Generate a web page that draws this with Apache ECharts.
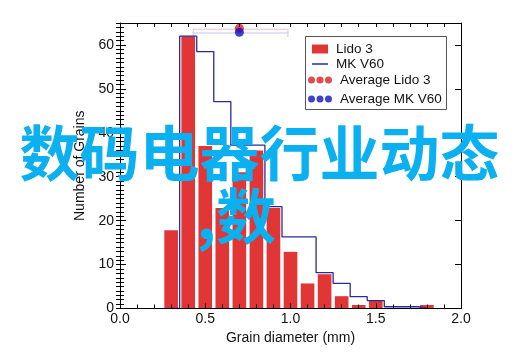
<!DOCTYPE html>
<html><head><meta charset="utf-8">
<script src="https://cdn.jsdelivr.net/npm/echarts@6/dist/echarts.min.js"></script>
<style>html,body{margin:0;padding:0;background:#fff}#c{width:515px;height:359px}</style>
</head><body><div id="c"></div>
<script>
// ---- data ----
const binCenters = [0.3,0.4,0.5,0.6,0.7,0.8,0.9,1.0,1.1,1.2,1.3,1.4,1.5,1.6,1.7,1.8];
const lido3 = [17.8,62,37,22.9,31,36,22.9,12.9,5.7,7.8,2.8,0.8,1.8,0,0,0.8];
const mkV60 = [0,62,58.5,47.1,37.2,37.2,23.2,16.3,16.3,8.15,5.7,2.7,1.8,0.4,0.4,0];
const avgLido3 = [0.70, 63.8];
const avgMkV60 = [0.70, 62.9];
const errLido3 = [0.43, 0.985, 63.6];
const errMkV60 = [0.43, 0.985, 62.7];
const xTickLabels = ['0.0','0.5','1.0','1.5','2.0'];
const yTickLabels = ['0','10','20','30','40','50','60'];
const seriesNames = ['Lido 3','MK V60','Average Lido 3','Average MK V60'];
const overlayLine1 = '数码电器行业动态';
const overlayLine2 = ',数';

const FONT = '"Liberation Sans", Arial, sans-serif';
const RED = '#e23636', BLUE_LINE = '#2a2a9c', DOT_RED = '#e01e1e', DOT_BLUE = '#1212c4';

const chart = echarts.init(document.getElementById('c'), null, {renderer:'canvas'});

const barData = binCenters.map((x,i)=>[x,lido3[i]]).filter(d=>d[1]>0);
const stepData = binCenters.map((x,i)=>[x,mkV60[i]]);

function barRender(params, api){
  const x = api.value(0), y = api.value(1);
  const p0 = api.coord([x-0.04, y]);
  const p1 = api.coord([x+0.04, 0]);
  return {type:'rect', shape:{x:p0[0], y:p0[1], width:p1[0]-p0[0], height:p1[1]-p0[1]},
          style:{fill: RED}};
}
function errRender(color){
  return function(params, api){
    const lo = api.value(0), hi = api.value(1), y = api.value(2);
    const a = api.coord([lo, y-0.9]), b = api.coord([lo, y]), c = api.coord([hi, y]), d = api.coord([hi, y-0.9]);
    return {type:'polyline', shape:{points:[a,b,c,d]}, style:{stroke: color, lineWidth:1.5, fill:null}};
  };
}

const dots = 'path://M0,3.5a3.5,3.5 0 1,0 7,0a3.5,3.5 0 1,0 -7,0M8.5,3.5a3.5,3.5 0 1,0 7,0a3.5,3.5 0 1,0 -7,0M17,3.5a3.5,3.5 0 1,0 7,0a3.5,3.5 0 1,0 -7,0';
const legTxt = {fontFamily: FONT, fontSize: 13.5, color:'#111', padding:[0,0,0,3]};
function leg(name, left, top, icon, w, h){
  return {data:[name], left:left, top:top, icon:icon, itemWidth:w, itemHeight:h, padding:0,
          textStyle:legTxt, selectedMode:false, z:20, itemStyle:{borderWidth:0}};
}

const axLine = {onZero:false, lineStyle:{color:'#000', width:1}};
const tickStyle = {color:'#000', width:1};

const option = {
  animation:false,
  backgroundColor:'#fff',
  grid:{left:120, right:54, top:23, bottom:50.5, containLabel:false},
  legend:[
    leg(seriesNames[0], 312, 42, 'rect', 16, 9),
    leg(seriesNames[1], 312, 57, 'rect', 16, 1.5),
    leg(seriesNames[2], 308, 73, dots, 24, 7),
    leg(seriesNames[3], 308, 92, dots, 24, 7)
  ],
  xAxis:[
    {type:'value', min:0, max:2, interval:0.5, position:'bottom', z:10,
     axisLine:axLine,
     axisTick:{inside:true, length:5, lineStyle:tickStyle},
     minorTick:{show:true, splitNumber:5, length:4, lineStyle:tickStyle},
     splitLine:{show:false}, minorSplitLine:{show:false},
     axisLabel:{margin:4, fontFamily:FONT, fontSize:14, color:'#111',
       formatter:(v)=>xTickLabels[Math.round(v/0.5)]},
     name:'Grain diameter (mm)', nameLocation:'middle', nameGap:18,
     nameTextStyle:{fontFamily:FONT, fontSize:14, color:'#111'}},
    {type:'value', min:0, max:2, interval:0.5, position:'top', z:10,
     axisLine:axLine,
     axisTick:{inside:true, length:4, lineStyle:tickStyle},
     minorTick:{show:true, splitNumber:5, length:4, lineStyle:tickStyle},
     splitLine:{show:false}, axisLabel:{show:false}}
  ],
  yAxis:[
    {type:'value', min:0, max:65, interval:10, position:'left', z:10,
     axisLine:axLine,
     axisTick:{inside:true, length:6, lineStyle:tickStyle},
     splitLine:{show:false},
     axisLabel:{margin:6, fontFamily:FONT, fontSize:14, color:'#111', showMaxLabel:false,
       formatter:(v)=>{const i=Math.round(v/10); return (v%10===0 && yTickLabels[i]) ? yTickLabels[i] : '';}},
     name:'Number of Grains', nameLocation:'middle', nameGap:30,
     nameTextStyle:{fontFamily:FONT, fontSize:14, color:'#111'}},
    {type:'value', min:0, max:65, interval:10, position:'right', z:10,
     axisLine:axLine,
     axisTick:{inside:true, length:6, lineStyle:tickStyle},
     splitLine:{show:false}, axisLabel:{show:false}},
    {type:'value', min:0, max:65, interval:1, position:'left', z:10,
     axisLine:{show:false}, axisTick:{inside:true, length:4, lineStyle:tickStyle},
     splitLine:{show:false}, axisLabel:{show:false}},
    {type:'value', min:0, max:65, interval:1, position:'right', z:10,
     axisLine:{show:false}, axisTick:{inside:true, length:4, lineStyle:tickStyle},
     splitLine:{show:false}, axisLabel:{show:false}}
  ],
  series:[
    {name:seriesNames[0], type:'custom', renderItem:barRender, data:barData,
     itemStyle:{color:RED}, encode:{x:0, y:1}, z:2},
    {name:seriesNames[1], type:'line', step:'middle', data:stepData, showSymbol:false, symbol:'none',
     lineStyle:{color:BLUE_LINE, width:1.3}, itemStyle:{color:BLUE_LINE}, z:3},
    {name:'errLido', type:'custom', renderItem:errRender('rgba(225,160,180,0.45)'), data:[errLido3], encode:{x:[0,1], y:2}, z:3},
    {name:'errMk', type:'custom', renderItem:errRender('rgba(160,170,225,0.45)'), data:[errMkV60], encode:{x:[0,1], y:2}, z:3},
    {name:seriesNames[2], type:'scatter', data:[avgLido3], symbolSize:9, itemStyle:{color:DOT_RED}, z:4},
    {name:seriesNames[3], type:'scatter', data:[avgMkV60], symbolSize:9, itemStyle:{color:DOT_BLUE}, z:5}
  ],
  graphic:[
    {type:'rect', shape:{x:305.5, y:36.5, width:141, height:73}, style:{fill:'#fff', stroke:'#555', lineWidth:1}, z:15},
    {type:'text', x:259.5, y:153.5, z:100,
     style:{text:overlayLine1, fill:'#0bb0f0', font:'bold 60px "Noto Sans CJK SC"', align:'center', verticalAlign:'middle'}},
    {type:'text', x:276, y:216, z:100,
     style:{text:overlayLine2, fill:'#0bb0f0', font:'bold 60px "Noto Sans CJK SC"', align:'right', verticalAlign:'middle'}}
  ]
};
chart.setOption(option);
</script>
</body></html>
